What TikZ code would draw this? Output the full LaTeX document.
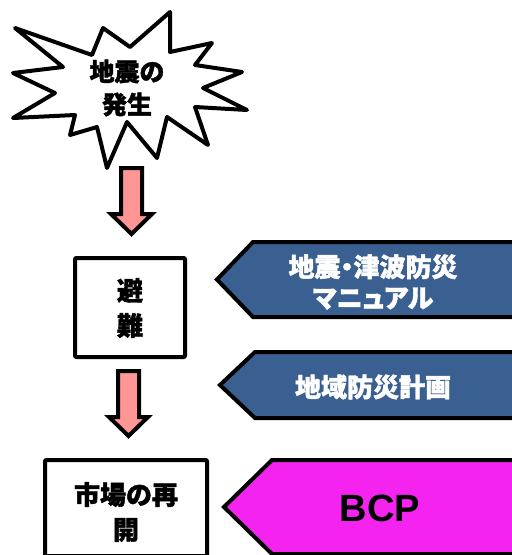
\documentclass[tikz,border=0pt]{standalone}
\usepackage{fontspec}
\newfontfamily\jp{Noto Sans CJK JP}[BoldFeatures={FakeBold=1.5}]
\newfontfamily\jpp{Noto Sans CJK JP}[RawFeature=+palt, BoldFeatures={FakeBold=1.5}]
\setmainfont{Liberation Sans}
\definecolor{pinkfill}{RGB}{255,150,150}
\definecolor{bluefill}{RGB}{58,95,145}
\definecolor{magfill}{RGB}{245,35,240}
\tikzset{
  outline/.style={draw=black, line width=4pt, line join=round},
  jptext/.style={font=\jp\bfseries\fontsize{24}{34}\selectfont, align=center, inner sep=0pt},
  whitetext/.style={font=\jpp\bfseries\fontsize{26}{31}\selectfont, align=center, text=white, inner sep=0pt},
  stepbox/.style={outline, fill=white, rounded corners=1pt},
  blockarrow/.style={outline, fill=pinkfill, line join=miter},
  banner/.style={outline, line join=miter},
}
\begin{document}
\begin{tikzpicture}[x=1pt,y=-1pt]
\useasboundingbox (0,0) rectangle (512,555);
\clip (0,0) rectangle (512,555);
% star
\draw[outline, fill=white, line join=round]
 (15,28) -- (92,55) -- (103,28) -- (130,47) -- (170,12) -- (170,52) -- (212,43)
 -- (195,65) -- (242,72) -- (203,88) -- (247,110) -- (195,107) -- (208,145)
 -- (167,117) -- (157,158) -- (127,122) -- (107,168) -- (97,127) -- (70,135)
 -- (75,115) -- (13,118) -- (55,93) -- (13,73) -- (63,67) -- cycle;
\node[jptext, font=\jp\bfseries\fontsize{25}{33}\selectfont] (quake) at (127,88) {地震の\\発生};
% step boxes
\draw[stepbox] (75,258) rectangle (185,357);
\node[jptext, font=\jp\bfseries\fontsize{26}{35}\selectfont] (evac) at (130,308) {避\\難};
\draw[stepbox] (45,460) rectangle (207,556);
\node[jptext, font=\jp\bfseries\fontsize{26}{35}\selectfont] (reopen) at (126,512) {市場の再\\開};
% pink block arrows
\draw[blockarrow] (121,168) -- (142,168) -- (142,214) -- (152,214) -- (131.5,234)
 -- (111,214) -- (121,214) -- cycle;
\draw[blockarrow] (118,371) -- (139,371) -- (139,417) -- (148,417) -- (128.5,436)
 -- (109,417) -- (118,417) -- cycle;
% banners
\draw[banner, fill=bluefill] (530,242) -- (253,242) -- (217,279.5) -- (253,317) -- (530,317);
\node[whitetext] (manual) at (373,282) {地震・津波防災\\マニュアル};
\draw[banner, fill=bluefill] (530,352) -- (255,352) -- (220,385) -- (255,418) -- (530,418);
\node[whitetext] (plan) at (373,387) {地域防災計画};
\draw[banner, fill=magfill] (530,460) -- (272,460) -- (224,507) -- (272,554) -- (530,554);
\node[font=\bfseries\fontsize{38}{38}\selectfont, inner sep=0pt] (bcp) at (380,508) {BCP};
\end{tikzpicture}
\end{document}
